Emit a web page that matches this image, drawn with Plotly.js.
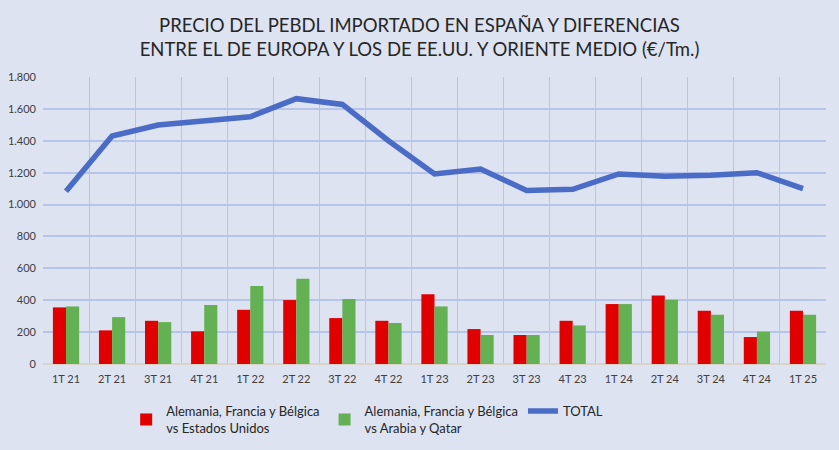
<!DOCTYPE html>
<html>
<head>
<meta charset="utf-8">
<script src="https://cdn.plot.ly/plotly-3.0.1.min.js"></script>
<style>
  html, body { margin: 0; padding: 0; background: #dde3f1; }
  #chart { width: 839px; height: 450px; }
</style>
</head>
<body>
<div id="chart"></div>
<script>
const quarters = ['1T 21', '2T 21', '3T 21', '4T 21', '1T 22', '2T 22', '3T 22', '4T 22', '1T 23',
  '2T 23', '3T 23', '4T 23', '1T 24', '2T 24', '3T 24', '4T 24', '1T 25'];
const vsUSA = [355, 211, 271, 205, 340, 401, 288, 271, 438, 219, 182, 271, 376, 430, 334, 169, 334];
const vsArabia = [361, 294, 263, 370, 489, 534, 407, 257, 361, 182, 182, 242, 376, 403, 309, 203, 309];
const total = [1083, 1430, 1499, 1528, 1551, 1664, 1628, 1400, 1192, 1223, 1088, 1096, 1192, 1177, 1184, 1200, 1100];

const gridColor = '#b6c4e9';
const textColor = '#404040';

const data = [
  {
    type: 'bar',
    name: 'Alemania, Francia y Bélgica<br>vs Estados Unidos',
    x: quarters,
    y: vsUSA,
    marker: { color: '#e00000' }
  },
  {
    type: 'bar',
    name: 'Alemania, Francia y Bélgica<br>vs Arabia y Qatar',
    x: quarters,
    y: vsArabia,
    marker: { color: '#63b152' }
  },
  {
    type: 'scatter',
    mode: 'lines',
    name: 'TOTAL',
    x: quarters,
    y: total,
    line: { color: '#4a6cc6', width: 5.5 }
  }
];

const layout = {
  width: 839,
  height: 450,
  paper_bgcolor: '#dde3f1',
  plot_bgcolor: '#dde3f1',
  font: { family: 'Lato, "Open Sans", sans-serif', color: textColor },
  separators: ',.',
  title: {
    text: 'PRECIO DEL PEBDL IMPORTADO EN ESPAÑA Y DIFERENCIAS<br>ENTRE EL DE EUROPA Y LOS DE EE.UU. Y ORIENTE MEDIO (€/Tm.)',
    font: { size: 18.5, color: '#262626' },
    x: 0.5,
    xanchor: 'center',
    y: 0.93,
    yanchor: 'top'
  },
  margin: { l: 43, r: 13, t: 77, b: 86 },
  barmode: 'group',
  bargap: 0.43,
  bargroupgap: 0,
  showlegend: true,
  legend: {
    orientation: 'h',
    x: 0.414,
    xanchor: 'center',
    yref: 'container',
    y: 0.12,
    yanchor: 'top',
    font: { size: 13, color: '#262626' },
    bgcolor: 'rgba(0,0,0,0)',
    traceorder: 'normal',
    itemwidth: 30
  },
  xaxis: {
    type: 'category',
    tickson: 'boundaries',
    showgrid: true,
    gridcolor: gridColor,
    gridwidth: 1,
    ticks: '',
    showline: false,
    ticklabelstandoff: 7,
    tickfont: { size: 11, color: textColor },
    fixedrange: true
  },
  yaxis: {
    range: [0, 1800],
    dtick: 200,
    separatethousands: true,
    tickformat: ',d',
    showgrid: true,
    gridcolor: gridColor,
    gridwidth: 1.5,
    zeroline: true,
    zerolinecolor: '#d8d4c8',
    zerolinewidth: 1.5,
    ticks: '',
    ticklabelstandoff: 6,
    tickfont: { size: 11, color: textColor },
    fixedrange: true
  }
};

Plotly.newPlot('chart', data, layout, { displayModeBar: false, responsive: false });
</script>
</body>
</html>
